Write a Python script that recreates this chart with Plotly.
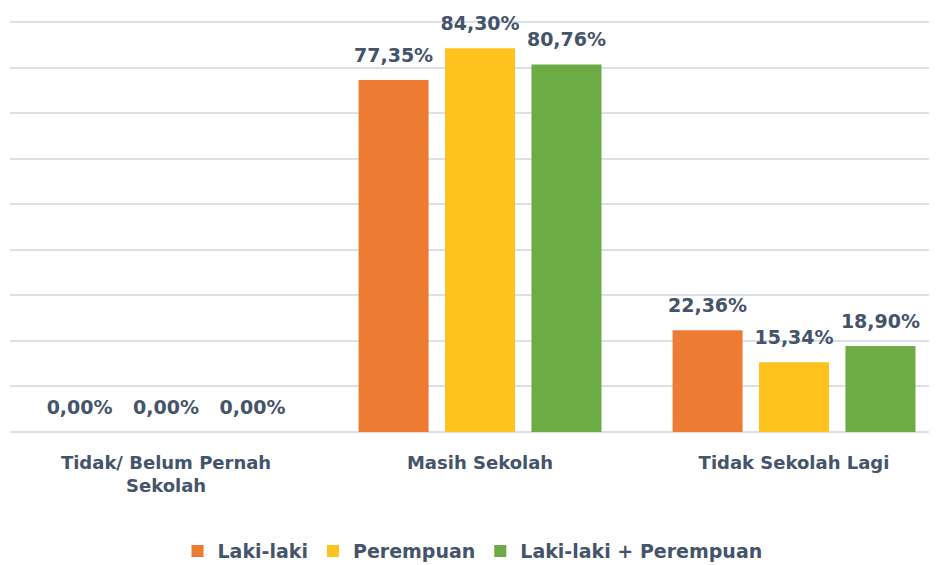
import plotly.graph_objects as go

categories = ["Tidak/ Belum Pernah<br>Sekolah", "Masih Sekolah", "Tidak Sekolah Lagi"]
series_names = ["Laki-laki", "Perempuan", "Laki-laki + Perempuan"]
laki = [0.00, 77.35, 22.36]
perempuan = [0.00, 84.30, 15.34]
gabungan = [0.00, 80.76, 18.90]
colors = ["#EE7B34", "#FFC21F", "#6DAB45"]

text_color = "#44546A"
font_family = "DejaVu Sans"
fs = 18

fig = go.Figure()
for k, (name, vals, col) in enumerate(zip(series_names, [laki, perempuan, gabungan], colors)):
    fig.add_trace(go.Bar(
        x=[0, 1, 2], y=vals, name=name, offsetgroup=str(k),
        marker=dict(color=col, line=dict(width=0)),
    ))
for k, vals in enumerate([laki, perempuan, gabungan]):
    fig.add_trace(go.Scatter(
        x=[0, 1, 2], y=vals, offsetgroup=str(k), mode="markers+text",
        marker=dict(size=20, opacity=0), showlegend=False, hoverinfo="skip",
        texttemplate="%{y:.2f}%", textposition="top center",
        textfont=dict(family=font_family, size=19, color=text_color, weight="bold"),
        cliponaxis=False,
    ))

fig.update_layout(
    width=937, height=565,
    separators=",.",
    paper_bgcolor="white", plot_bgcolor="white",
    margin=dict(l=2, r=10, t=13, b=141, autoexpand=False),
    barmode="group", bargap=0.174, bargroupgap=0.19,
    scattermode="group", scattergap=0.174,
    font=dict(family=font_family, size=fs, color=text_color),
    legend=dict(orientation="h", x=0.5, xanchor="center", y=-0.29, yanchor="middle",
                font=dict(family=font_family, size=19, color=text_color, weight="bold"),
                itemwidth=30, traceorder="normal"),
    xaxis=dict(tickmode="array", tickvals=[0, 1, 2], ticktext=categories,
               range=[-0.497, 2.449], showgrid=False, showline=False, ticks="",
               ticklabelstandoff=18,
               tickfont=dict(family=font_family, size=fs, color=text_color, weight="bold")),
    yaxis=dict(range=[0, 90.3], dtick=10, showticklabels=False, gridcolor="#DCE1E8",
               gridwidth=2, zeroline=True, zerolinecolor="#DCE1E8", zerolinewidth=2,
               showline=False),
)

fig.write_html("out.html")
